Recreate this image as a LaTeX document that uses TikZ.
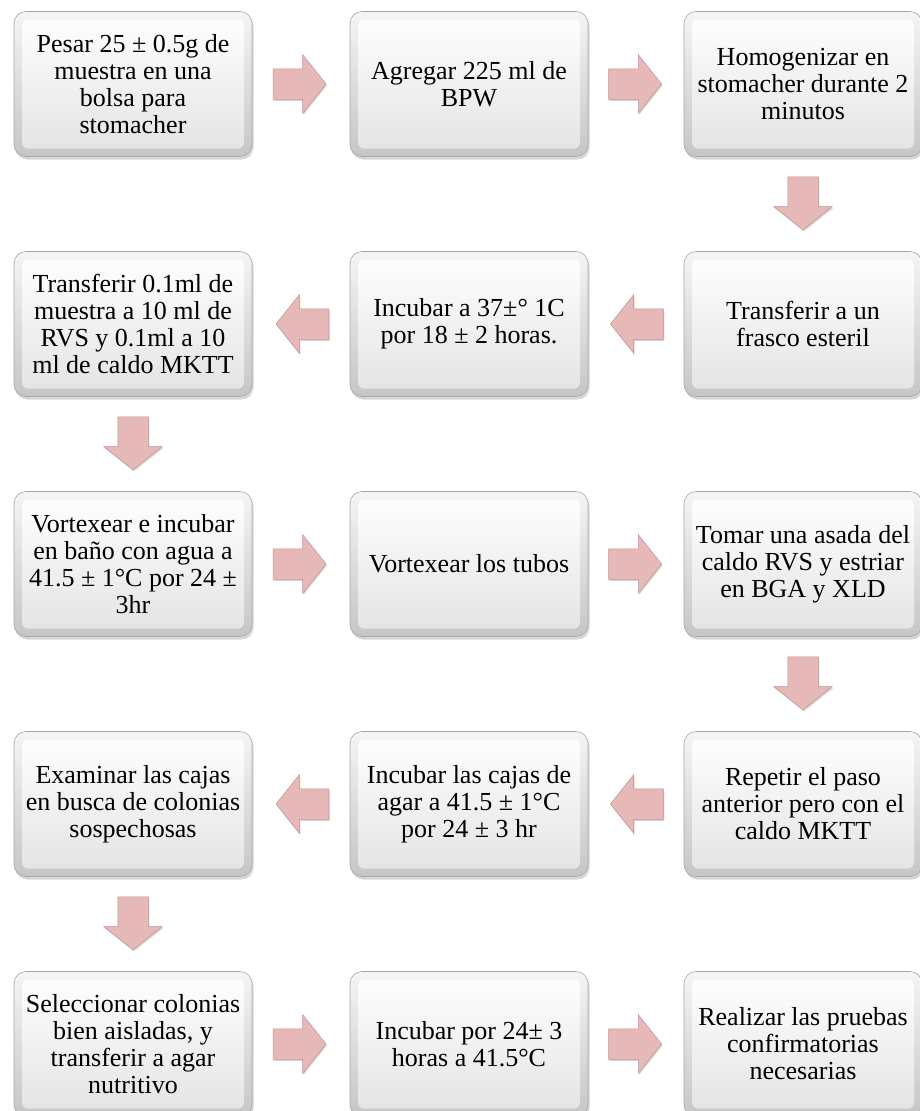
\documentclass[tikz,border=0pt]{standalone}
\usepackage{fontspec}
\setmainfont{Liberation Serif}
\usetikzlibrary{shapes.arrows, shadows, positioning, calc}
\definecolor{BoxEdge}{HTML}{A8A8A8}
\definecolor{ArrowRose}{HTML}{E6B9B8}
\definecolor{ArrowEdge}{HTML}{C29292}
\tikzset{
    % Bevelled grey step boxes
    stepbox/.style={
        rectangle,
        rounded corners=12pt,
        draw=BoxEdge,
        line width=0.6pt,
        top color=gray!8,
        bottom color=gray!45,
        minimum width=238pt,
        minimum height=145pt,
        inner sep=3pt,
        align=center,
        font=\fontsize{26}{27}\selectfont,
        drop shadow={shadow xshift=1.5pt, shadow yshift=-3pt, opacity=0.45, fill=gray!70},
        path picture={
            \shade[top color=white, bottom color=gray!22, rounded corners=6pt]
                ([shift={(8pt,8pt)}]path picture bounding box.south west) rectangle
                ([shift={(-8pt,-8pt)}]path picture bounding box.north east);
        }
    },
    % Pink block arrows
    flow arrow/.style={
        single arrow,
        draw=ArrowEdge,
        fill=ArrowRose,
        line width=0.5pt,
        inner sep=15pt,
        minimum height=53pt,
        single arrow head extend=14pt,
        single arrow tip angle=103,
        anchor=tail,
        drop shadow={shadow xshift=1pt, shadow yshift=-1.5pt, opacity=0.3}
    },
    arrow right/.style={flow arrow, shape border rotate=0},
    arrow left/.style={flow arrow, shape border rotate=180},
    arrow down/.style={flow arrow, shape border rotate=270}
}
\begin{document}
\begin{tikzpicture}[x=1pt, y=-1pt]
    \fill[white] (0,0) rectangle (919,1111);
    \useasboundingbox (0,0) rectangle (919,1111);

    % Row 1
    \node[stepbox] (pesar) at (133,84) {Pesar 25 ± 0.5g de\\ muestra en una\\ bolsa para\\ stomacher};
    \node[stepbox] (agregar) at (469,84) {Agregar 225 ml de\\ BPW};
    \node[stepbox] (homog) at (803,84) {Homogenizar en\\ stomacher durante 2\\ minutos};

    % Row 2
    \node[stepbox] (frasco) at (803,324) {Transferir a un\\ frasco esteril};
    \node[stepbox] (incubar) at (469,324) {Incubar a 37±° 1C\\ por 18 ± 2 horas.};
    \node[stepbox] (transfer) at (133,324) {Transferir 0.1ml de\\ muestra a 10 ml de\\ RVS y 0.1ml a 10\\ ml de caldo MKTT};

    % Row 3
    \node[stepbox] (vortex) at (133,564) {Vortexear e incubar\\ en baño con agua a\\ 41.5 ± 1°C por 24 ±\\ 3hr};
    \node[stepbox] (tubos) at (469,564) {Vortexear los tubos};
    \node[stepbox] (asada) at (803,564) {Tomar una asada del\\ caldo RVS y estriar\\ en BGA y XLD};

    % Row 4
    \node[stepbox] (repetir) at (803,804) {Repetir el paso\\ anterior pero con el\\ caldo MKTT};
    \node[stepbox] (cajas) at (469,804) {Incubar las cajas de\\ agar a 41.5 ± 1°C\\ por 24 ± 3 hr};
    \node[stepbox] (examinar) at (133,804) {Examinar las cajas\\ en busca de colonias\\ sospechosas};

    % Row 5
    \node[stepbox] (seleccionar) at (133,1044) {Seleccionar colonias\\ bien aisladas, y\\ transferir a agar\\ nutritivo};
    \node[stepbox] (incubarpor) at (469,1044) {Incubar por 24± 3\\ horas a 41.5°C};
    \node[stepbox] (pruebas) at (803,1044) {Realizar las pruebas\\ confirmatorias\\ necesarias};

    % Block arrows (tail placed just after the source box)
    \node[arrow right] at ($(pesar.east)!0.21!(agregar.west)$) {};
    \node[arrow right] at ($(agregar.east)!0.21!(homog.west)$) {};
    \node[arrow down] at ($(homog.south)!0.21!(frasco.north)$) {};
    \node[arrow left] at ($(frasco.west)!0.21!(incubar.east)$) {};
    \node[arrow left] at ($(incubar.west)!0.21!(transfer.east)$) {};
    \node[arrow down] at ($(transfer.south)!0.21!(vortex.north)$) {};
    \node[arrow right] at ($(vortex.east)!0.21!(tubos.west)$) {};
    \node[arrow right] at ($(tubos.east)!0.21!(asada.west)$) {};
    \node[arrow down] at ($(asada.south)!0.21!(repetir.north)$) {};
    \node[arrow left] at ($(repetir.west)!0.21!(cajas.east)$) {};
    \node[arrow left] at ($(cajas.west)!0.21!(examinar.east)$) {};
    \node[arrow down] at ($(examinar.south)!0.21!(seleccionar.north)$) {};
    \node[arrow right] at ($(seleccionar.east)!0.21!(incubarpor.west)$) {};
    \node[arrow right] at ($(incubarpor.east)!0.21!(pruebas.west)$) {};
\end{tikzpicture}
\end{document}
